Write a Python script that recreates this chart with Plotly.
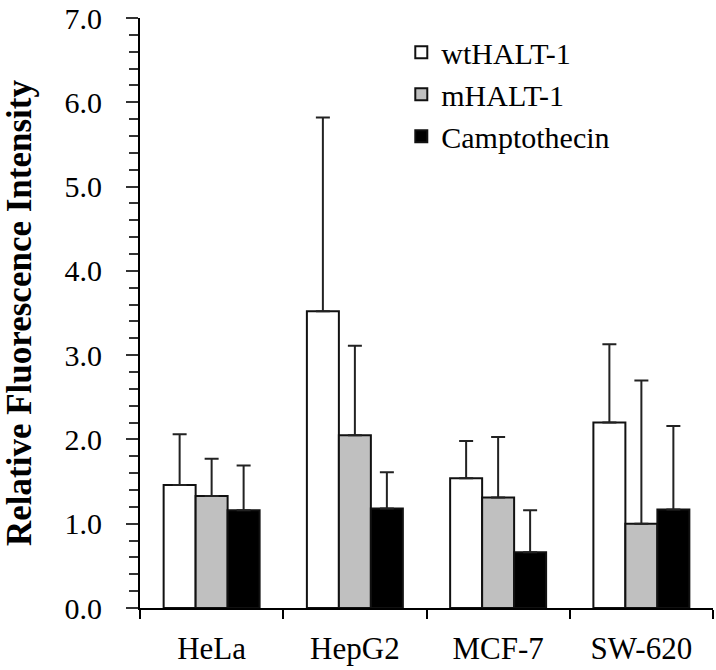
import plotly.graph_objects as go

categories = ["HeLa", "HepG2", "MCF-7", "SW-620"]
series_names = ["wtHALT-1", "mHALT-1", "Camptothecin"]
wt_values = [1.46, 3.52, 1.54, 2.20]
wt_errors = [0.60, 2.30, 0.44, 0.93]
m_values = [1.33, 2.05, 1.31, 1.00]
m_errors = [0.44, 1.06, 0.72, 1.70]
c_values = [1.16, 1.18, 0.66, 1.17]
c_errors = [0.53, 0.43, 0.50, 0.99]
y_tick_values = [0, 1, 2, 3, 4, 5, 6, 7]
y_tick_labels = ["0.0", "1.0", "2.0", "3.0", "4.0", "5.0", "6.0", "7.0"]

fill_colors = ["#ffffff", "#c0c0c0", "#000000"]
FONT = "Liberation Serif, Times New Roman, serif"

fig = go.Figure()
for name, vals, errs, col in zip(series_names,
                                 [wt_values, m_values, c_values],
                                 [wt_errors, m_errors, c_errors],
                                 fill_colors):
    fig.add_trace(go.Bar(
        x=categories, y=vals, name=name,
        marker=dict(color=col, line=dict(color="#111111", width=2)),
        error_y=dict(type="data", array=errs, symmetric=False,
                     arrayminus=[0] * len(errs),
                     color="#222222", thickness=2, width=7),
    ))

fig.update_layout(
    width=716, height=670,
    margin=dict(l=140, r=3, t=18, b=62),
    paper_bgcolor="white", plot_bgcolor="white",
    barmode="group", bargap=0.33, bargroupgap=0,
    font=dict(family=FONT, color="black", size=30),
    showlegend=True,
    legend=dict(x=0.456, y=0.986, xanchor="left", yanchor="top",
                font=dict(family=FONT, size=30, color="black"),
                bgcolor="rgba(0,0,0,0)", tracegroupgap=0,
                itemsizing="constant"),
)
fig.update_xaxes(
    showline=True, linecolor="black", linewidth=2,
    ticks="outside", tickson="boundaries", ticklen=9, tickwidth=2,
    tickcolor="black", showgrid=False, zeroline=False,
    tickfont=dict(family=FONT, size=31, color="black"),
    ticklabelstandoff=12, automargin=False,
)
fig.update_yaxes(
    range=[0, 7], showline=True, linecolor="black", linewidth=2,
    tickmode="array", tickvals=y_tick_values, ticktext=y_tick_labels,
    ticks="outside", ticklen=12, tickwidth=2, tickcolor="#333333",
    minor=dict(ticks="outside", dtick=0.2, ticklen=9, tickwidth=2,
               tickcolor="#333333", showgrid=False),
    showgrid=False, zeroline=False,
    tickfont=dict(family=FONT, size=30, color="black"),
    ticklabelstandoff=18, ticklabeloverflow="allow", automargin=False,
    title=dict(text="<b>Relative Fluorescence Intensity</b>",
               font=dict(family=FONT, size=35, color="black"), standoff=38),
)

fig.write_html("out.html",
               config={"displayModeBar": False},
               post_script="document.body.style.margin='0';document.body.style.padding='0';")
